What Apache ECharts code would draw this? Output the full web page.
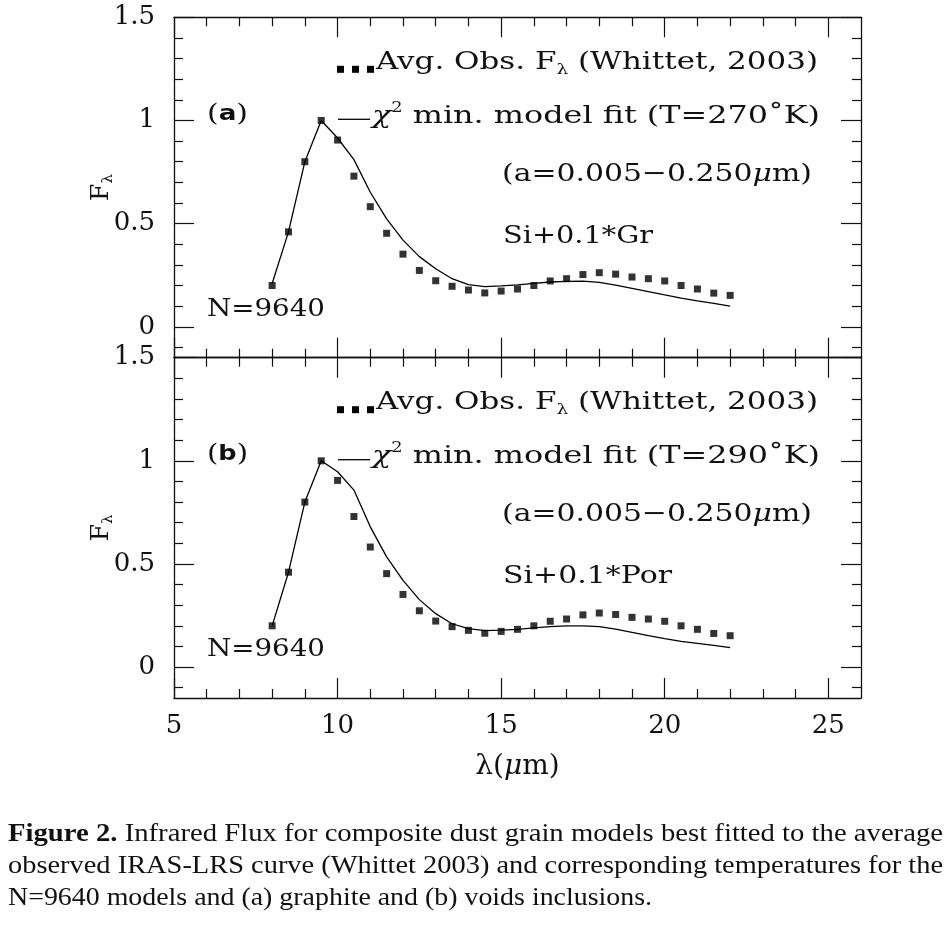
<!DOCTYPE html>
<html><head><meta charset="utf-8">
<script src="https://cdn.jsdelivr.net/npm/echarts@6/dist/echarts.min.js"></script>
<style>html,body{margin:0;padding:0;background:#fff}#c{width:949px;height:926px}</style>
</head><body><div id="c"></div>
<script>
// ---------------- data ----------------
const wavelength = [8,8.5,9,9.5,10,10.5,11,11.5,12,12.5,13,13.5,14,14.5,15,15.5,16,16.5,17,17.5,18,18.5,19,19.5,20,20.5,21,21.5,22];
const obsFlux = [0.20,0.46,0.80,1.00,0.905,0.73,0.582,0.453,0.352,0.273,0.223,0.196,0.178,0.164,0.173,0.183,0.20,0.222,0.233,0.253,0.262,0.255,0.241,0.233,0.222,0.20,0.183,0.163,0.152];
const modelGraphite = [0.21,0.46,0.80,1.00,0.915,0.81,0.652,0.523,0.42,0.34,0.281,0.233,0.204,0.195,0.198,0.203,0.21,0.217,0.22,0.221,0.215,0.202,0.186,0.17,0.154,0.139,0.125,0.113,0.10];
const modelPorous = [0.20,0.46,0.80,1.00,0.947,0.858,0.68,0.534,0.42,0.327,0.259,0.21,0.186,0.177,0.179,0.183,0.19,0.196,0.20,0.20,0.196,0.184,0.168,0.152,0.138,0.125,0.115,0.105,0.094];
const xMajorTicks = [5,10,15,20,25];
const xMinorTicks = [6,7,8,9,11,12,13,14,16,17,18,19,21,22,23,24];
const yMajorTicks = [0,0.5,1,1.5];
const yMinorTicks = [-0.1,0.1,0.2,0.3,0.4,0.6,0.7,0.8,0.9,1.1,1.2,1.3,1.4];
const panelLetters = ['a','b'];
const temperatures = [270,290];
const mixtures = ['Si+0.1*Gr','Si+0.1*Por'];
const sizeRange = '0.005\u22120.250';
const modelCount = 'N=9640';
const captionLines = [
  ['Figure 2.',' Infrared Flux for composite dust grain models best fitted to the average'],
  ['','observed IRAS-LRS curve (Whittet 2003) and corresponding temperatures for the'],
  ['','N=9640 models and (a) graphite and (b) voids inclusions.']
];

// ---------------- layout ----------------
const X_MIN = 5, X_MAX = 26, Y_MIN = -0.15, Y_MAX = 1.5;
const GL = 174, GW = 687;
const PANEL_TOP = [17.3, 357.7];
const PANEL_H = [340.4, 340.3];
const INK = '#111';
const FONT = 'DejaVu Serif';

const cv = document.createElement('canvas').getContext('2d');
function measure(t, s) {
  cv.font = (s.fontStyle || 'normal') + ' ' + (s.fontWeight || 'normal') + ' ' + s.fontSize + 'px ' + s.fontFamily;
  return cv.measureText(t).width;
}
function fitText(segs, x, y, width, rich) {
  let w = 0;
  segs.forEach(([k, t]) => { if (t) w += measure(t, rich[k]); });
  return {
    type: 'text', x: x, y: y, scaleX: width / w, scaleY: 1, z: 100,
    style: {
      text: segs.filter(s => s[1]).map(([k, t]) => '{' + k + '|' + t + '}').join(''),
      rich: rich, align: 'left', verticalAlign: 'middle', textAlign: 'left', textVerticalAlign: 'middle', fill: INK
    }
  };
}
const annRich = {
  n: {fontFamily: FONT, fontSize: 25, lineHeight: 30, fill: INK},
  i: {fontFamily: FONT, fontSize: 25, fontStyle: 'italic', lineHeight: 30, fill: INK},
  s: {fontFamily: FONT, fontSize: 15, lineHeight: 14, verticalAlign: 'bottom', fill: INK},
  p: {fontFamily: FONT, fontSize: 14, lineHeight: 18, verticalAlign: 'top', fill: INK},
  b: {fontFamily: 'DejaVu Sans', fontSize: 22, fontWeight: 'bold', lineHeight: 30, fill: INK}
};
const capRich = {
  c: {fontFamily: 'Liberation Serif', fontSize: 26, lineHeight: 30, fill: INK},
  cb: {fontFamily: 'Liberation Serif', fontSize: 26, fontWeight: 'bold', lineHeight: 30, fill: INK}
};

function xAx(g, pos, ticks, len, line, label) {
  return {
    type: 'value', gridIndex: g, position: pos, min: X_MIN, max: X_MAX,
    axisLine: {show: line, onZero: false, lineStyle: {color: INK, width: 1.3}},
    axisTick: {show: true, inside: true, length: len, customValues: ticks, lineStyle: {color: INK, width: 1.2}},
    axisLabel: label ? {show: true, customValues: xMajorTicks, margin: 15, fontFamily: FONT, fontSize: 26, color: INK} : {show: false},
    splitLine: {show: false}
  };
}
function yAx(g, pos, ticks, len, line, label) {
  return {
    type: 'value', gridIndex: g, position: pos, min: Y_MIN, max: Y_MAX,
    axisLine: {show: line, onZero: false, lineStyle: {color: INK, width: 1.3}},
    axisTick: {show: true, inside: true, length: len, customValues: ticks, lineStyle: {color: INK, width: 1.2}},
    axisLabel: label ? {show: true, customValues: yMajorTicks, margin: 19, fontFamily: FONT, fontSize: 26, color: INK} : {show: false},
    splitLine: {show: false}
  };
}

const xAxes = [], yAxes = [];
[0, 1].forEach(g => {
  xAxes.push(xAx(g, 'bottom', xMajorTicks, 20, true, g === 1));
  xAxes.push(xAx(g, 'bottom', xMinorTicks, 9, false, false));
  xAxes.push(xAx(g, 'top', xMajorTicks, 20, true, false));
  xAxes.push(xAx(g, 'top', xMinorTicks, 9, false, false));
  const yl = yAx(g, 'left', yMajorTicks, 20, true, true);
  yl.name = '{f|F}{s|\u03bb}';
  yl.nameLocation = 'middle';
  yl.nameRotate = 90;
  yl.nameGap = 58;
  yl.nameMoveOverlap = false;
  yl.nameTextStyle = {rich: {
    f: {fontFamily: FONT, fontSize: 25, lineHeight: 30, color: INK},
    s: {fontFamily: FONT, fontSize: 15, lineHeight: 15, verticalAlign: 'bottom', color: INK}
  }};
  yAxes.push(yl);
  yAxes.push(yAx(g, 'left', yMinorTicks, 9, false, false));
  yAxes.push(yAx(g, 'right', yMajorTicks, 20, true, false));
  yAxes.push(yAx(g, 'right', yMinorTicks, 9, false, false));
});
xAxes[4].name = '{l|\u03bb(}{i|\u03bc}{l|m)}';
xAxes[4].nameLocation = 'middle';
xAxes[4].nameGap = 54;
xAxes[4].nameMoveOverlap = false;
xAxes[4].nameTextStyle = {rich: {
  l: {fontFamily: FONT, fontSize: 28, lineHeight: 30, color: INK},
  i: {fontFamily: FONT, fontSize: 28, fontStyle: 'italic', lineHeight: 30, color: INK}
}};

const models = [modelGraphite, modelPorous];
const series = [];
[0, 1].forEach(g => {
  series.push({
    name: 'Avg. Obs. F\u03bb (Whittet, 2003)', type: 'scatter', xAxisIndex: g * 4, yAxisIndex: g * 4,
    symbol: 'rect', symbolSize: 7, itemStyle: {color: '#000'},
    data: wavelength.map((x, i) => [x, obsFlux[i]]), z: 3
  });
  series.push({
    name: '\u03c7\u00b2 min. model fit (T=' + temperatures[g] + '\u00b0K)', type: 'line', xAxisIndex: g * 4, yAxisIndex: g * 4,
    showSymbol: false, symbol: 'none', smooth: false,
    lineStyle: {color: '#000', width: 1.3},
    data: wavelength.map((x, i) => [x, models[g][i]]), z: 2
  });
});

// annotations
const elements = [];
[0, 1].forEach(g => {
  const P = PANEL_TOP[g];
  const sq = P + 52;
  [337, 352, 367].forEach(x => elements.push({type: 'rect', shape: {x: x, y: sq - 3.5, width: 7, height: 7}, style: {fill: '#000'}, z: 100}));
  elements.push({type: 'line', shape: {x1: 338, y1: P + 102, x2: 370, y2: P + 102}, style: {stroke: '#000', lineWidth: 1.3}, z: 100});
  elements.push(fitText([['n', 'Avg. Obs. F'], ['s', '\u03bb'], ['n', ' (Whittet, 2003)']], 376, P + 45, 442, annRich));
  elements.push(fitText([['i', '\u03c7'], ['p', '2'], ['n', ' min. model fit (T=' + temperatures[g] + '\u02daK)']], 372, P + 99, 448, annRich));
  elements.push(fitText([['n', '(a=' + sizeRange], ['i', '\u03bc'], ['n', 'm)']], 502, P + 157, 310, annRich));
  elements.push(fitText([['n', mixtures[g]]], 503, P + 219, g === 0 ? 150 : 169, annRich));
  elements.push(fitText([['n', '('], ['b', panelLetters[g]], ['n', ')']], 207, P + 97, 41, annRich));
  elements.push(fitText([['n', modelCount]], 207, P + 292, 118, annRich));
});
const capY = [834, 866, 898];
const capW = [935, 935, 644];
captionLines.forEach((ln, k) => {
  elements.push(fitText([['cb', ln[0]], ['c', ln[1]]], 8, capY[k], capW[k], capRich));
});

const chart = echarts.init(document.getElementById('c'), null, {renderer: 'canvas'});
chart.setOption({
  backgroundColor: '#fff',
  animation: false,
  grid: [0, 1].map(g => ({left: GL, top: PANEL_TOP[g], width: GW, height: PANEL_H[g], containLabel: false})),
  xAxis: xAxes,
  yAxis: yAxes,
  series: series,
  graphic: {elements: elements}
});
</script></body></html>
